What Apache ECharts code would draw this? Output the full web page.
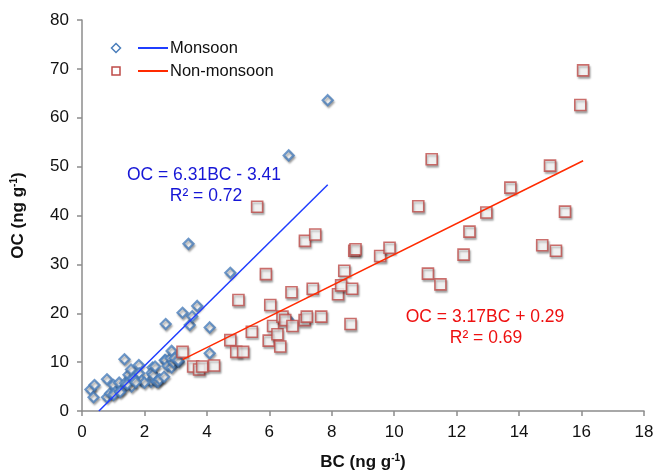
<!DOCTYPE html>
<html>
<head>
<meta charset="utf-8">
<script src="https://cdn.jsdelivr.net/npm/echarts@6/dist/echarts.min.js"></script>
<style>html,body{margin:0;padding:0;background:#fff}#c{width:656px;height:470px}</style>
</head>
<body>
<div id="c"></div>
<script>
var monsoon = [[0.27,4.4],[0.37,2.8],[0.40,5.3],[0.80,6.5],[0.80,2.8],[0.90,3.6],[1.01,5.3],[1.06,3.9],[1.01,3.3],[1.19,5.8],[1.27,4.3],[1.22,3.9],[1.36,10.6],[1.38,5.7],[1.49,7.4],[1.54,6.3],[1.59,5.0],[1.57,8.5],[1.45,5.5],[1.82,9.4],[1.83,7.7],[1.91,6.2],[2.21,6.0],[2.26,8.9],[2.23,7.8],[2.28,6.7],[2.28,7.4],[2.39,6.0],[2.44,6.0],[2.49,6.5],[2.34,9.1],[2.63,7.0],[2.65,10.4],[2.68,10.4],[2.74,9.2],[2.84,10.8],[2.87,8.9],[2.87,12.3],[2.93,9.9],[2.97,10.8],[3.10,10.1],[3.08,10.4],[2.68,17.8],[3.22,20.1],[3.45,17.6],[3.53,19.4],[3.69,21.5],[4.09,17.1],[4.09,11.8],[3.41,34.2],[4.75,28.3],[6.62,52.3],[7.87,63.6],[6.60,18.7],[1.65,6.6],[2.00,5.8],[1.72,5.9]];
var nonMonsoon = [[3.22,12.1],[3.56,9.1],[3.75,8.5],[3.85,9.1],[4.23,9.3],[4.75,14.5],[4.94,12.1],[5.16,12.1],[5.01,22.7],[5.44,16.2],[5.61,41.8],[5.89,28.0],[5.98,14.4],[6.03,21.7],[6.12,17.4],[6.26,15.7],[6.35,13.2],[6.42,19.3],[6.51,18.6],[6.71,24.3],[6.74,17.4],[7.13,18.6],[7.20,19.3],[7.14,34.8],[7.47,36.1],[7.39,25.0],[7.66,19.3],[8.20,23.9],[8.30,25.7],[8.40,28.7],[8.60,17.8],[8.65,25.0],[8.72,32.8],[8.76,33.1],[9.55,31.7],[9.85,33.4],[10.77,41.9],[11.08,28.1],[11.20,51.5],[11.48,25.9],[12.22,32.0],[12.41,36.7],[12.95,40.6],[13.72,45.7],[14.74,33.9],[14.99,50.2],[15.18,32.8],[15.47,40.8],[15.96,62.6],[16.05,69.7]];
var monsoonFit = [[0.54,0],[7.87,46.3]];
var nonMonsoonFit = [[3.22,10.5],[16.05,51.2]];
var seriesNames = ['Monsoon','Non-monsoon'];
var monsoonEq = ['OC = 6.31BC - 3.41','R² = 0.72'];
var nonMonsoonEq = ['OC = 3.17BC + 0.29','R² = 0.69'];

var FONT = 'Liberation Sans, Arial, sans-serif';
var BLUE_M = '#4a7ebb', RED_M = '#be4b48', BLUE_L = '#1f3dff', RED_L = '#ff2a00';
var chart = echarts.init(document.getElementById('c'));
var shadow = {shadowBlur:2, shadowColor:'rgba(0,0,0,0.35)', shadowOffsetX:1, shadowOffsetY:2};
var nameStyle = {fontFamily:FONT,fontWeight:'bold',fontSize:17,color:'#111',
  rich:{s:{fontFamily:FONT,fontWeight:'bold',fontSize:10,color:'#111',verticalAlign:'top',padding:[0,0,8,0]}}};
chart.setOption({
  animation:false,
  backgroundColor:'#fff',
  grid:{left:82,right:12,top:20,bottom:59,containLabel:false,outerBoundsMode:'none'},
  xAxis:{type:'value',min:0,max:18,interval:2,
    name:'BC (ng g{s|-1})',nameLocation:'middle',nameGap:42,nameTextStyle:nameStyle,
    axisLine:{lineStyle:{color:'#8c8c8c',width:1.5}},
    axisTick:{show:true,length:5,lineStyle:{color:'#8c8c8c',width:1.5}},
    axisLabel:{fontFamily:FONT,fontSize:17,color:'#111',margin:13},
    splitLine:{show:false}},
  yAxis:{type:'value',min:0,max:80,interval:10,
    name:'OC (ng g{s|-1})',nameLocation:'middle',nameGap:55,nameRotate:90,nameTextStyle:nameStyle,
    axisLine:{show:true,lineStyle:{color:'#8c8c8c',width:1.5}},
    axisTick:{show:true,length:5,lineStyle:{color:'#8c8c8c',width:1.5}},
    axisLabel:{fontFamily:FONT,fontSize:17,color:'#111',margin:13},
    splitLine:{show:false}},
  series:[
    {name:seriesNames[0],type:'scatter',data:monsoon,symbol:'diamond',symbolSize:10,
      itemStyle:Object.assign({color:'#fff',borderColor:BLUE_M,borderWidth:2.2},shadow),z:3},
    {name:seriesNames[1],type:'scatter',data:nonMonsoon,symbol:'rect',symbolSize:11,
      itemStyle:Object.assign({color:'#fff',borderColor:RED_M,borderWidth:1.6},shadow),z:4},
    {type:'line',data:monsoonFit,showSymbol:false,symbol:'none',lineStyle:{color:BLUE_L,width:1.5},z:5},
    {type:'line',data:nonMonsoonFit,showSymbol:false,symbol:'none',lineStyle:{color:RED_L,width:1.5},z:5}
  ],
  graphic:[
    {type:'polygon',shape:{points:[[116,43.5],[120.5,48],[116,52.5],[111.5,48]]},style:{fill:'#fff',stroke:BLUE_M,lineWidth:1.5}},
    {type:'line',shape:{x1:138,y1:48,x2:168,y2:48},style:{stroke:BLUE_L,lineWidth:2}},
    {type:'text',x:170,y:48,style:{text:seriesNames[0],font:'16.5px '+FONT,fill:'#111',textVerticalAlign:'middle'}},
    {type:'rect',shape:{x:112,y:67,width:8,height:8},style:{fill:'#fff',stroke:RED_M,lineWidth:1.5}},
    {type:'line',shape:{x1:138,y1:71,x2:168,y2:71},style:{stroke:RED_L,lineWidth:2}},
    {type:'text',x:170,y:71,style:{text:seriesNames[1],font:'16.5px '+FONT,fill:'#111',textVerticalAlign:'middle'}},
    {type:'text',x:204,y:175,style:{text:monsoonEq[0],font:'17.5px '+FONT,fill:'#1616d6',textAlign:'center',textVerticalAlign:'middle'}},
    {type:'text',x:206,y:196,style:{text:monsoonEq[1],font:'17.5px '+FONT,fill:'#1616d6',textAlign:'center',textVerticalAlign:'middle'}},
    {type:'text',x:485,y:317,style:{text:nonMonsoonEq[0],font:'17.5px '+FONT,fill:'#ee1111',textAlign:'center',textVerticalAlign:'middle'}},
    {type:'text',x:486,y:338,style:{text:nonMonsoonEq[1],font:'17.5px '+FONT,fill:'#ee1111',textAlign:'center',textVerticalAlign:'middle'}}
  ]
});
</script>
</body>
</html>
